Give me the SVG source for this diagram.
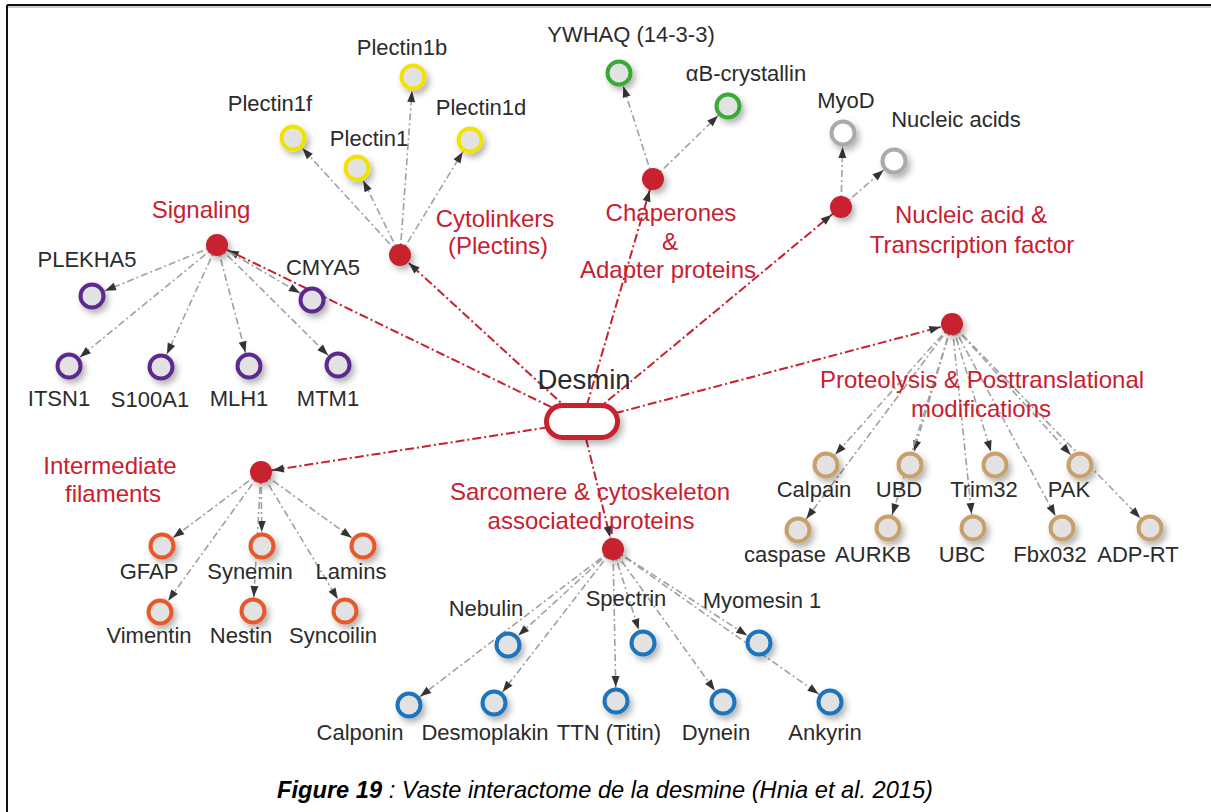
<svg xmlns="http://www.w3.org/2000/svg" width="1211" height="812" viewBox="0 0 1211 812">
<style>
.lb{font-family:"Liberation Sans",Arial,sans-serif;font-size:22px;fill:#2b2b2b;text-anchor:middle}
.rl{font-family:"Liberation Sans",Arial,sans-serif;font-size:24px;fill:#c8202f;text-anchor:middle}
.r{stroke:#c8202f;stroke-width:2;stroke-dasharray:9 3 2 3;fill:none;marker-end:url(#ah2)}
.g{stroke:#a0a0a0;stroke-width:1.6;stroke-dasharray:7 3 2 3;fill:none;marker-end:url(#ah1)}
.cat{fill:#c8202f}
.n{stroke-width:4;fill:#e2e2e2}
.pu{stroke:#5b2c8e}.ye{stroke:#f0e300}.gr{stroke:#3aa935}.wh{stroke:#aaaaaa;fill:#ffffff}
.tn{stroke:#c9a06c}.or{stroke:#e8592b}.bl{stroke:#1b75bc}
</style>
<defs>
<marker id="ah1" markerUnits="userSpaceOnUse" markerWidth="12" markerHeight="8" refX="25" refY="4" orient="auto" overflow="visible"><path d="M0,0 L11,4 L0,8 z" fill="#333"/></marker>
<marker id="ah2" markerUnits="userSpaceOnUse" markerWidth="12" markerHeight="8" refX="23" refY="4" orient="auto" overflow="visible"><path d="M0,0 L11,4 L0,8 z" fill="#333"/></marker>
<filter id="sh" x="-50%" y="-50%" width="200%" height="200%"><feDropShadow dx="3" dy="4" stdDeviation="3" flood-color="#000" flood-opacity="0.3"/></filter>
</defs>
<rect width="1211" height="812" fill="#ffffff"/>
<g id="frame">
<line x1="7" y1="5" x2="1211" y2="5" stroke="#111" stroke-width="2"/>
<line x1="7" y1="7" x2="1211" y2="7" stroke="#999" stroke-width="1"/>
<line x1="7" y1="5" x2="7" y2="812" stroke="#111" stroke-width="2"/>
</g>
<g id="connectors">
<line class="r" x1="582" y1="422" x2="217" y2="245"/>
<line class="r" x1="582" y1="422" x2="400" y2="255"/>
<line class="r" x1="582" y1="422" x2="653" y2="179"/>
<line class="r" x1="582" y1="422" x2="841" y2="207"/>
<line class="r" x1="582" y1="422" x2="952" y2="324"/>
<line class="r" x1="582" y1="422" x2="261" y2="472"/>
<line class="r" x1="582" y1="422" x2="613" y2="549"/>
<line class="g" x1="217" y1="245" x2="92" y2="296"/>
<line class="g" x1="217" y1="245" x2="312" y2="300"/>
<line class="g" x1="217" y1="245" x2="69" y2="366"/>
<line class="g" x1="217" y1="245" x2="161" y2="367"/>
<line class="g" x1="217" y1="245" x2="249" y2="366"/>
<line class="g" x1="217" y1="245" x2="338" y2="365"/>
<line class="g" x1="400" y1="255" x2="293" y2="138"/>
<line class="g" x1="400" y1="255" x2="357" y2="168"/>
<line class="g" x1="400" y1="255" x2="413" y2="77"/>
<line class="g" x1="400" y1="255" x2="470" y2="140"/>
<line class="g" x1="653" y1="179" x2="619" y2="73"/>
<line class="g" x1="653" y1="179" x2="728" y2="106"/>
<line class="g" x1="841" y1="207" x2="843" y2="133"/>
<line class="g" x1="841" y1="207" x2="894" y2="161"/>
<line class="g" x1="952" y1="324" x2="826" y2="465"/>
<line class="g" x1="952" y1="324" x2="910" y2="465"/>
<line class="g" x1="952" y1="324" x2="995" y2="465"/>
<line class="g" x1="952" y1="324" x2="1080" y2="465"/>
<line class="g" x1="952" y1="324" x2="798" y2="530"/>
<line class="g" x1="952" y1="324" x2="888" y2="528"/>
<line class="g" x1="952" y1="324" x2="973" y2="528"/>
<line class="g" x1="952" y1="324" x2="1062" y2="528"/>
<line class="g" x1="952" y1="324" x2="1150" y2="528"/>
<line class="g" x1="261" y1="472" x2="162" y2="546"/>
<line class="g" x1="261" y1="472" x2="262" y2="546"/>
<line class="g" x1="261" y1="472" x2="363" y2="546"/>
<line class="g" x1="261" y1="472" x2="160" y2="612"/>
<line class="g" x1="261" y1="472" x2="253" y2="611"/>
<line class="g" x1="261" y1="472" x2="345" y2="611"/>
<line class="g" x1="613" y1="549" x2="508" y2="645"/>
<line class="g" x1="613" y1="549" x2="643" y2="643"/>
<line class="g" x1="613" y1="549" x2="759" y2="643"/>
<line class="g" x1="613" y1="549" x2="409" y2="705"/>
<line class="g" x1="613" y1="549" x2="494" y2="703"/>
<line class="g" x1="613" y1="549" x2="616" y2="701"/>
<line class="g" x1="613" y1="549" x2="723" y2="702"/>
<line class="g" x1="613" y1="549" x2="830" y2="702"/>
</g>
<g id="desmin">
<rect x="546.5" y="405.5" width="71" height="32" rx="16" fill="#fff" stroke="#c8202f" stroke-width="5" filter="url(#sh)"/>
<text class="lb" x="584" y="389" style="font-size:27.5px">Desmin</text>
</g>
<g id="signaling">
<circle class="cat" cx="217" cy="245" r="11" filter="url(#sh)"/>
<text class="rl" x="201" y="218">Signaling</text>
</g>
<g id="plekha5"><circle class="n pu" cx="92" cy="296" r="11.5" filter="url(#sh)"/><text class="lb" x="87" y="267">PLEKHA5</text></g>
<g id="cmya5"><circle class="n pu" cx="312" cy="300" r="11.5" filter="url(#sh)"/><text class="lb" x="323" y="275">CMYA5</text></g>
<g id="itsn1"><circle class="n pu" cx="69" cy="366" r="11.5" filter="url(#sh)"/><text class="lb" x="59" y="406">ITSN1</text></g>
<g id="s100a1"><circle class="n pu" cx="161" cy="367" r="11.5" filter="url(#sh)"/><text class="lb" x="150" y="407">S100A1</text></g>
<g id="mlh1"><circle class="n pu" cx="249" cy="366" r="11.5" filter="url(#sh)"/><text class="lb" x="239" y="406">MLH1</text></g>
<g id="mtm1"><circle class="n pu" cx="338" cy="365" r="11.5" filter="url(#sh)"/><text class="lb" x="328" y="406">MTM1</text></g>
<g id="cytolinkers">
<circle class="cat" cx="400" cy="255" r="11" filter="url(#sh)"/>
<text class="rl" x="495" y="227">Cytolinkers</text>
<text class="rl" x="498" y="254">(Plectins)</text>
</g>
<g id="plectin1f"><circle class="n ye" cx="293" cy="138" r="11.5" filter="url(#sh)"/><text class="lb" x="270" y="111">Plectin1f</text></g>
<g id="plectin1"><circle class="n ye" cx="357" cy="168" r="11.5" filter="url(#sh)"/><text class="lb" x="369" y="146">Plectin1</text></g>
<g id="plectin1b"><circle class="n ye" cx="413" cy="77" r="11.5" filter="url(#sh)"/><text class="lb" x="402" y="55">Plectin1b</text></g>
<g id="plectin1d"><circle class="n ye" cx="470" cy="140" r="11.5" filter="url(#sh)"/><text class="lb" x="481" y="115">Plectin1d</text></g>
<g id="chaperones">
<circle class="cat" cx="653" cy="179" r="11" filter="url(#sh)"/>
<text class="rl" x="671" y="221">Chaperones</text>
<text class="rl" x="670" y="250">&amp;</text>
<text class="rl" x="668" y="278">Adapter proteins</text>
</g>
<g id="ywhaq"><circle class="n gr" cx="619" cy="73" r="11.5" filter="url(#sh)"/><text class="lb" x="631" y="42">YWHAQ (14-3-3)</text></g>
<g id="abcrystallin"><circle class="n gr" cx="728" cy="106" r="11.5" filter="url(#sh)"/><text class="lb" x="746" y="81">αB-crystallin</text></g>
<g id="nucleic">
<circle class="cat" cx="841" cy="207" r="11" filter="url(#sh)"/>
<text class="rl" x="971" y="223">Nucleic acid &amp;</text>
<text class="rl" x="972" y="253">Transcription factor</text>
</g>
<g id="myod"><circle class="n wh" cx="843" cy="133" r="11.5" filter="url(#sh)"/><text class="lb" x="846" y="108">MyoD</text></g>
<g id="nucleicacids"><circle class="n wh" cx="894" cy="161" r="11.5" filter="url(#sh)"/><text class="lb" x="956" y="127">Nucleic acids</text></g>
<g id="proteolysis">
<circle class="cat" cx="952" cy="324" r="11" filter="url(#sh)"/>
<text class="rl" x="982" y="388">Proteolysis &amp; Posttranslational</text>
<text class="rl" x="981" y="417">modifications</text>
</g>
<g id="calpain"><circle class="n tn" cx="826" cy="465" r="11.5" filter="url(#sh)"/><text class="lb" x="814" y="497">Calpain</text></g>
<g id="ubd"><circle class="n tn" cx="910" cy="465" r="11.5" filter="url(#sh)"/><text class="lb" x="899" y="497">UBD</text></g>
<g id="trim32"><circle class="n tn" cx="995" cy="465" r="11.5" filter="url(#sh)"/><text class="lb" x="984" y="497">Trim32</text></g>
<g id="pak"><circle class="n tn" cx="1080" cy="465" r="11.5" filter="url(#sh)"/><text class="lb" x="1069" y="497">PAK</text></g>
<g id="caspase"><circle class="n tn" cx="798" cy="530" r="11.5" filter="url(#sh)"/><text class="lb" x="785" y="562">caspase</text></g>
<g id="aurkb"><circle class="n tn" cx="888" cy="528" r="11.5" filter="url(#sh)"/><text class="lb" x="873" y="562">AURKB</text></g>
<g id="ubc"><circle class="n tn" cx="973" cy="528" r="11.5" filter="url(#sh)"/><text class="lb" x="962" y="562">UBC</text></g>
<g id="fbx032"><circle class="n tn" cx="1062" cy="528" r="11.5" filter="url(#sh)"/><text class="lb" x="1050" y="562">Fbx032</text></g>
<g id="adprt"><circle class="n tn" cx="1150" cy="528" r="11.5" filter="url(#sh)"/><text class="lb" x="1138" y="562">ADP-RT</text></g>
<g id="intermediate">
<circle class="cat" cx="261" cy="472" r="11" filter="url(#sh)"/>
<text class="rl" x="110" y="474">Intermediate</text>
<text class="rl" x="113" y="502">filaments</text>
</g>
<g id="gfap"><circle class="n or" cx="162" cy="546" r="11.5" filter="url(#sh)"/><text class="lb" x="149" y="579">GFAP</text></g>
<g id="synemin"><circle class="n or" cx="262" cy="546" r="11.5" filter="url(#sh)"/><text class="lb" x="250" y="579">Synemin</text></g>
<g id="lamins"><circle class="n or" cx="363" cy="546" r="11.5" filter="url(#sh)"/><text class="lb" x="351" y="579">Lamins</text></g>
<g id="vimentin"><circle class="n or" cx="160" cy="612" r="11.5" filter="url(#sh)"/><text class="lb" x="149" y="643">Vimentin</text></g>
<g id="nestin"><circle class="n or" cx="253" cy="611" r="11.5" filter="url(#sh)"/><text class="lb" x="241" y="643">Nestin</text></g>
<g id="syncoilin"><circle class="n or" cx="345" cy="611" r="11.5" filter="url(#sh)"/><text class="lb" x="333" y="643">Syncoilin</text></g>
<g id="sarcomere">
<circle class="cat" cx="613" cy="549" r="11" filter="url(#sh)"/>
<text class="rl" x="590" y="500">Sarcomere &amp; cytoskeleton</text>
<text class="rl" x="591" y="529">associated proteins</text>
</g>
<g id="nebulin"><circle class="n bl" cx="508" cy="645" r="11.5" filter="url(#sh)"/><text class="lb" x="486" y="616">Nebulin</text></g>
<g id="spectrin"><circle class="n bl" cx="643" cy="643" r="11.5" filter="url(#sh)"/><text class="lb" x="626" y="606">Spectrin</text></g>
<g id="myomesin1"><circle class="n bl" cx="759" cy="643" r="11.5" filter="url(#sh)"/><text class="lb" x="762" y="608">Myomesin 1</text></g>
<g id="calponin"><circle class="n bl" cx="409" cy="705" r="11.5" filter="url(#sh)"/><text class="lb" x="360" y="740">Calponin</text></g>
<g id="desmoplakin"><circle class="n bl" cx="494" cy="703" r="11.5" filter="url(#sh)"/><text class="lb" x="485" y="740">Desmoplakin</text></g>
<g id="ttn"><circle class="n bl" cx="616" cy="701" r="11.5" filter="url(#sh)"/><text class="lb" x="609" y="740">TTN (Titin)</text></g>
<g id="dynein"><circle class="n bl" cx="723" cy="702" r="11.5" filter="url(#sh)"/><text class="lb" x="716" y="740">Dynein</text></g>
<g id="ankyrin"><circle class="n bl" cx="830" cy="702" r="11.5" filter="url(#sh)"/><text class="lb" x="825" y="740">Ankyrin</text></g>
<g id="caption">
<text x="277" y="798" textLength="656" lengthAdjust="spacingAndGlyphs" style="font-family:'Liberation Sans',Arial,sans-serif;font-size:24px;font-style:italic;fill:#000"><tspan font-weight="bold">Figure 19</tspan> : Vaste interactome de la desmine (Hnia et al. 2015)</text>
</g>
</svg>
